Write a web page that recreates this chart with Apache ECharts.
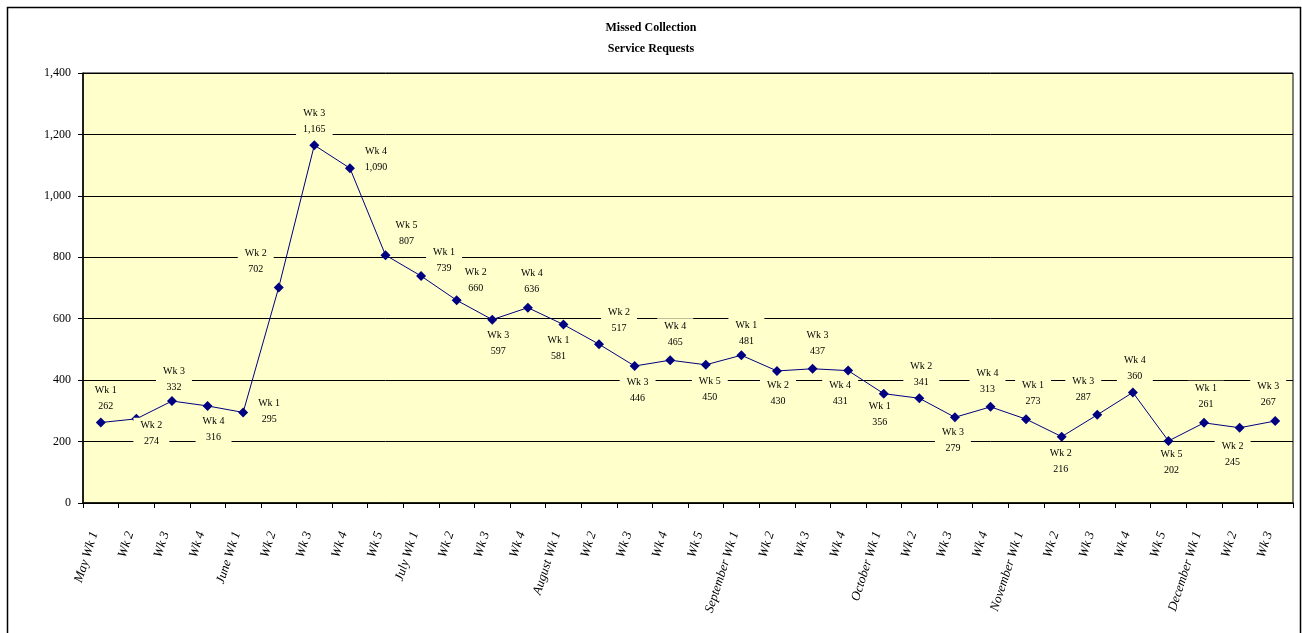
<!DOCTYPE html>
<html>
<head>
<meta charset="utf-8">
<script src="https://cdn.jsdelivr.net/npm/echarts@6/dist/echarts.min.js"></script>
<style>
html,body{margin:0;padding:0;background:#fff;}
#chart{width:1302px;height:633px;}
</style>
</head>
<body>
<div id="chart"></div>
<script>
const categories = ['May Wk 1','Wk 2','Wk 3','Wk 4','June Wk 1','Wk 2','Wk 3','Wk 4','Wk 5',
  'July Wk 1','Wk 2','Wk 3','Wk 4','August Wk 1','Wk 2','Wk 3','Wk 4','Wk 5',
  'September Wk 1','Wk 2','Wk 3','Wk 4','October Wk 1','Wk 2','Wk 3','Wk 4',
  'November Wk 1','Wk 2','Wk 3','Wk 4','Wk 5','December Wk 1','Wk 2','Wk 3'];
const requests = [262,274,332,316,295,702,1165,1090,807,739,660,597,636,581,517,446,465,450,
  481,430,437,431,356,341,279,313,273,216,287,360,202,261,245,267];
const yTicks = [0,200,400,600,800,1000,1200,1400];
// label offsets (px, from point to label centre) — styling only
const labelOffsets = [[5,-25],[15,14],[2,-23],[6,22],[26,-2],[-23,-27],[0,-25],[26,-10],[21,-23],
  [23,-17],[19,-21],[6,23],[4,-27],[-5,23],[20,-25],[3,23],[5,-27],[4,24],
  [5,-23],[1,21],[5,-26],[-8,22],[-4,20],[2,-25],[-2,22],[-3,-26],
  [7,-27],[-1,24],[-14,-26],[2,-25],[3,20],[2,-27],[-7,26],[-7,-28]];

const fmt = v => v.toLocaleString('en-US');
const serif = '"Liberation Serif","DejaVu Serif",serif';
const plotBg = '#FFFFCC';
const symSize = 10;

const chart = echarts.init(document.getElementById('chart'));
const seriesData = requests.map((v,i) => ({
  value: v,
  label: {position: [symSize/2 + labelOffsets[i][0], symSize/2 + 1 + labelOffsets[i][1]]}
}));

chart.setOption({
  backgroundColor: '#fff',
  animation: false,
  title: {
    text: 'Missed Collection\nService Requests',
    left: 'center', top: 12,
    textStyle: {fontFamily: serif, fontSize: 12, fontWeight: 'bold', color: '#000', lineHeight: 21}
  },
  graphic: [{
    type: 'rect', shape: {x: 7.5, y: 7.5, width: 1293, height: 640},
    style: {fill: 'none', stroke: '#000', lineWidth: 1.5}, z: 100
  }],
  grid: {left: 83, right: 9, top: 73, bottom: 130, show: true, backgroundColor: plotBg, borderColor: '#000', borderWidth: 1},
  xAxis: {
    type: 'category', data: categories, boundaryGap: true,
    axisLine: {lineStyle: {color: '#000', width: 1.5}},
    axisTick: {show: true, alignWithLabel: false, length: 5, lineStyle: {color: '#000'}},
    axisLabel: {interval: 0, rotate: 72, margin: 10, fontFamily: serif, fontStyle: 'italic', fontSize: 13, color: '#000',
      padding: [0, 20, 14, 0]},
    splitLine: {show: false}
  },
  yAxis: {
    type: 'value', min: yTicks[0], max: yTicks[yTicks.length-1], interval: yTicks[1]-yTicks[0],
    axisLine: {show: true, lineStyle: {color: '#000', width: 1.5}},
    axisTick: {show: true, length: 5, lineStyle: {color: '#000'}},
    axisLabel: {formatter: v => fmt(v), fontFamily: serif, fontSize: 12, color: '#000', margin: 12},
    splitLine: {show: true, lineStyle: {color: '#000', width: 1}}
  },
  series: [{
    type: 'line', data: seriesData,
    symbol: 'diamond', symbolSize: symSize,
    lineStyle: {color: '#000080', width: 1},
    itemStyle: {color: '#000080'},
    label: {
      show: true, align: 'center', verticalAlign: 'middle',
      formatter: p => categories[p.dataIndex].replace(/^.*?(Wk \d+)$/, '$1') + '\n' + fmt(p.value),
      fontFamily: serif, fontSize: 10, color: '#000', lineHeight: 16,
      backgroundColor: plotBg, padding: [0, 7]
    },
    labelLayout: {hideOverlap: false}
  }]
});
</script>
</body>
</html>
